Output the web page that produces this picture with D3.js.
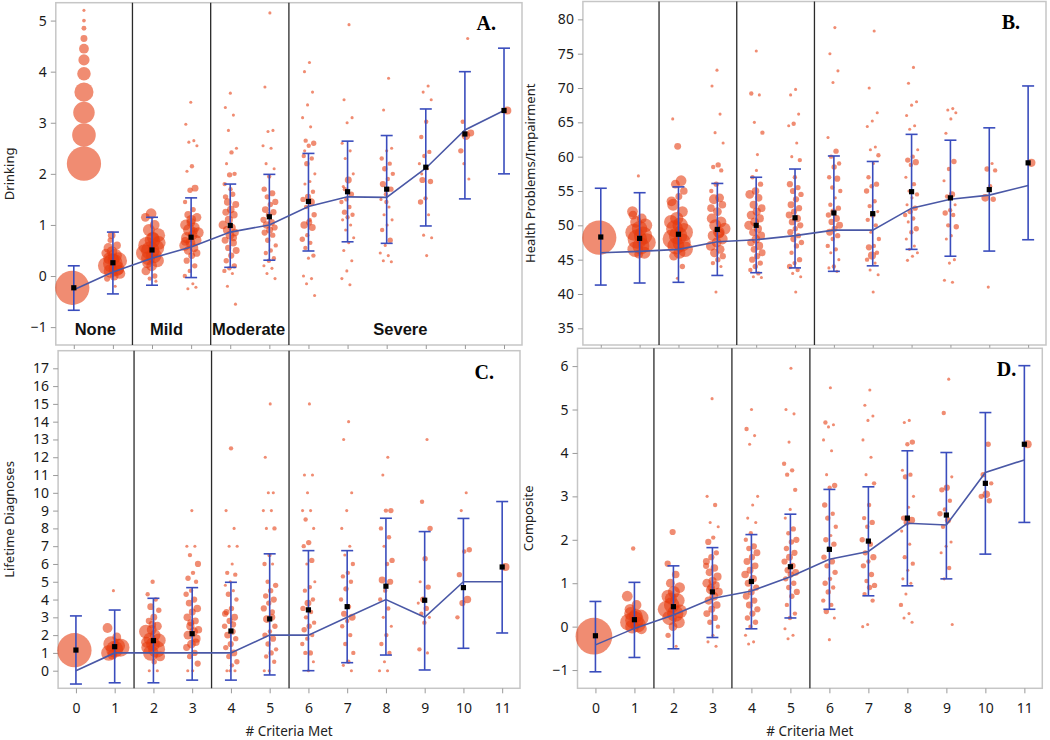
<!DOCTYPE html>
<html><head><meta charset="utf-8">
<script src="https://cdn.jsdelivr.net/npm/d3@7"></script>
<style>body{margin:0;background:#fff}svg{display:block}</style>
</head><body><svg id="c" width="1050" height="740"></svg>
<script>
// ---------------- DATA ----------------
const categories = [0,1,2,3,4,5,6,7,8,9,10,11];
const severityLabels = ["None","Mild","Moderate","Severe"];
const severityAnchors = [0.55,2.37,4.47,8.35];   // category units
const severityBreaks = [1.5,3.5,5.5];

// A. Drinking
const drinkingMean = [-0.23,0.26,0.51,0.76,0.99,1.16,1.46,1.65,1.70,2.13,2.78,3.24];
const drinkingHi   = [0.2,0.86,1.15,1.53,1.8,1.99,2.4,2.64,2.75,3.27,4.0,4.46];
const drinkingLo   = [-0.67,-0.35,-0.18,-0.03,0.17,0.31,0.49,0.67,0.64,0.98,1.51,2.0];
const drinkingMedian = [-0.27,0.08,0.35,0.57,0.86,1.0,1.36,1.55,1.54,2.11,2.86,3.24];
const drinkingTicks = [-1,0,1,2,3,4,5];
const drinkingPoints = [
 [[-0.23,122]],
 [[0.8,6],[0.45,8],[0.4,20],[0.35,15],[0.3,30],[0.25,40],[0.2,35],[0.15,25],[0.1,20],[0.05,12],[0.0,8],[0.55,10],[0.6,6],[0.48,12],[-0.05,4],[-0.2,1],[0.7,3],[0.12,10],[0.32,14]],
 [[1.22,12],[1.15,8],[1.0,10],[0.9,15],[0.8,20],[0.7,25],[0.6,30],[0.55,28],[0.5,35],[0.45,30],[0.4,25],[0.35,20],[0.3,18],[0.2,12],[0.1,8],[0.0,3],[-0.05,2],[0.65,20],[0.75,15],[0.25,10],[-0.1,1]],
 [[3.4,1],[2.97,1],[2.65,1],[2.62,1],[2.55,1],[2.15,2],[2.05,1],[1.72,5],[1.68,3],[1.45,2],[1.3,3],[1.2,6],[1.15,8],[1.1,10],[1.0,12],[0.95,10],[0.9,15],[0.85,12],[0.8,10],[0.75,14],[0.7,12],[0.65,10],[0.6,12],[0.55,8],[0.5,8],[0.45,6],[0.4,5],[0.3,4],[0.2,3],[0.1,2],[0.0,2],[-0.15,1],[-0.25,1],[-0.22,1],[1.05,8],[0.68,8],[0.88,6]],
 [[3.58,1],[3.3,1],[3.15,1],[2.85,1],[2.5,1],[2.42,2],[2.2,1],[2.0,2],[1.98,3],[1.8,2],[1.6,3],[1.45,6],[1.4,5],[1.3,6],[1.25,5],[1.2,6],[1.1,7],[1.0,8],[0.95,6],[0.9,7],[0.85,6],[0.8,8],[0.7,5],[0.65,6],[0.55,4],[0.5,5],[0.4,4],[0.3,3],[0.2,3],[0.15,2],[0.1,2],[0.05,1],[-0.2,1],[-0.55,1],[1.7,2],[1.55,3],[0.75,5]],
 [[5.15,1],[3.7,1],[2.85,1],[2.83,1],[2.55,1],[2.5,1],[2.2,1],[2.1,1],[1.95,2],[1.7,3],[1.62,4],[1.55,3],[1.45,4],[1.4,3],[1.3,5],[1.25,4],[1.2,3],[1.1,4],[1.05,5],[1.0,6],[0.95,4],[0.9,5],[0.85,4],[0.8,3],[0.7,3],[0.6,2],[0.5,2],[0.45,2],[0.35,2],[0.3,2],[0.2,1],[0.15,1],[0.05,1],[-0.05,1]],
 [[4.18,1],[4.0,1],[3.6,1],[3.35,1],[3.1,1],[2.92,1],[2.65,2],[2.6,3],[2.55,2],[2.35,2],[2.3,2],[2.2,3],[2.0,1],[1.85,1],[1.8,1],[1.65,2],[1.55,4],[1.5,3],[1.45,6],[1.35,2],[1.2,3],[1.05,4],[1.0,6],[0.95,5],[0.8,2],[0.72,3],[0.65,2],[0.55,2],[0.4,2],[0.35,1],[0.0,1],[-0.05,1],[-0.15,1],[-0.38,1],[1.1,2],[2.45,1]],
 [[4.92,1],[3.45,1],[3.1,1],[3.0,1],[2.6,1],[2.45,1],[2.3,1],[2.0,1],[1.88,5],[1.75,1],[1.6,3],[1.5,2],[1.45,2],[1.35,2],[1.25,3],[1.2,2],[1.15,2],[1.1,1],[1.0,1],[0.9,1],[0.75,1],[0.65,1],[0.5,1],[0.3,1],[0.1,1],[-0.05,1],[-0.17,1],[1.7,2]],
 [[3.87,1],[3.25,1],[2.5,1],[2.45,1],[2.3,2],[2.2,2],[2.1,3],[2.0,2],[1.9,2],[1.8,4],[1.7,3],[1.6,2],[1.5,1],[1.35,1],[1.2,1],[1.1,1],[1.0,1],[0.9,2],[0.7,3],[0.6,1],[0.45,1],[0.4,1],[0.3,1],[0.28,1],[1.45,2]],
 [[3.72,1],[3.6,1],[3.45,1],[3.02,2],[2.72,2],[2.43,2],[2.35,2],[2.2,1],[2.1,1],[1.88,4],[1.85,3],[1.52,2],[1.45,3],[1.2,1],[0.8,1],[0.75,1],[0.4,1],[2.0,1]],
 [[4.65,1],[3.02,2],[2.8,5],[2.75,8],[2.45,3],[1.9,1],[2.2,1]],
 [[3.24,7]]
];
// size key drawn inside panel A
const sizeKeyValues = [5.2,5.0,4.85,4.65,4.45,4.23,3.96,3.6,3.2,2.76,2.2];
const sizeKeyCounts = [1,1.4,2.5,5,10,13,19,38,48,58,122];
const sizeKeyCategory = 0.26;

// B. Health Problems/Impairment
const healthMean = [48.3,48.1,48.7,49.4,50.0,51.1,51.8,51.7,54.9,54.0,55.2,59.1];
const healthHi   = [55.4,54.75,55.6,56.1,57.0,58.2,60.1,59.3,63.25,62.4,64.2,70.3];
const healthLo   = [41.3,41.6,41.7,42.7,43.1,43.8,43.3,44.1,46.5,45.5,46.25,47.9];
const healthMedian = [46.0,46.2,46.5,47.6,47.9,48.5,49.3,49.3,52.5,53.8,54.4,55.8];
const healthTicks = [35,40,45,50,55,60,65,70,75,80];
const healthPoints = [
 [[48.2,122]],
 [[57.2,1],[52,12],[51,10],[50.5,14],[50,20],[49.5,25],[49,30],[48.5,35],[48,40],[47.5,35],[47,30],[46.5,25],[46,15],[45.8,8],[51.5,8]],
 [[61.5,5],[65.5,1],[56.5,12],[56,8],[55,6],[54.2,5],[53,15],[52,12],[51,18],[50.5,20],[50,25],[49.5,30],[49,35],[48.5,35],[48,40],[47.5,35],[47,30],[46.5,25],[46,15],[45.5,8],[44,3],[42.3,1],[53.5,10]],
 [[72.6,1],[70.3,1],[66.2,1],[63.5,1],[62,1],[58.8,3],[58.5,2],[58,2],[56,3],[55,2],[54,8],[53.8,10],[53,6],[52,8],[51,10],[50.5,12],[50,15],[49.5,15],[49,14],[48.5,12],[48,12],[47.5,10],[47,10],[46.5,8],[46,8],[45.5,4],[45,3],[44.5,2],[44,1],[40.3,1],[52.5,6],[48.8,10]],
 [[75.4,1],[69.2,2],[69,1],[65,1],[63.5,2],[60.3,1],[57,2],[56,3],[55,6],[54.5,8],[54,6],[53,7],[52.5,6],[52,7],[51.5,8],[51,7],[50.5,8],[50,9],[49.5,7],[49,6],[48.5,7],[48,8],[47.5,6],[47,7],[46.5,5],[46,5],[45.5,4],[45,4],[44.5,3],[44,3],[43.5,2],[43,2],[42.5,1],[42.4,1],[58,1]],
 [[69.8,1],[69,1],[66.2,1],[64.8,2],[64.5,1],[62,1],[60,1],[59.5,2],[57,2],[56,4],[55.5,3],[55,4],[54.5,3],[53.8,4],[53,5],[52.5,4],[52,4],[51.5,5],[51,6],[50.5,5],[50,4],[49.5,3],[49,4],[48.5,3],[48,4],[47.5,3],[47,3],[46,2],[45,3],[44.5,2],[44,3],[43.5,2],[43,1],[42.5,1],[40.3,1]],
 [[78.8,1],[75,1],[72.5,1],[70.8,1],[62.8,1],[60.8,3],[60,2],[59,2],[58.5,3],[57,2],[56.8,4],[55.5,2],[55,2],[54,1],[53,2],[52.5,3],[52,4],[51.5,3],[51,5],[50.5,4],[50,5],[49.5,4],[49,5],[48.5,3],[48,2],[47,2],[46.5,2],[46,1],[45,1],[44,2],[43.8,1],[43.3,1]],
 [[78.3,1],[70,1],[66.4,1],[65.2,1],[64.4,1],[61.4,1],[61,1],[60.2,2],[59,1],[57,2],[56,3],[55.7,2],[55,3],[53.5,2],[52.8,2],[52,1],[51.5,3],[50.8,2],[50,2],[49,1],[48,2],[47,2],[46.8,4],[46,2],[45.6,7],[45,2],[44.5,1],[43.5,1],[42.8,1],[40.3,1]],
 [[73,1],[70.7,1],[68,1],[67.5,1],[66,1],[64.5,1],[64,1],[61,1],[60,2],[59.5,3],[59.2,4],[58.8,2],[57,1],[56,2],[55,1],[54.5,2],[54,1],[53,1],[52.5,3],[52,3],[51.5,2],[51,2],[50.5,1],[49.5,3],[49,2],[48,1],[47,1],[46.5,1],[46,1],[45.5,1],[44.9,1]],
 [[67,1],[66.8,1],[66.4,1],[65.5,1],[63.4,1],[59.3,3],[58.2,2],[56.5,1],[54.5,4],[54.2,2],[53,1],[52.2,2],[51.8,3],[51.5,2],[50,2],[49.8,3],[48.5,1],[48,1],[45,1],[44.5,1],[42,1],[41.7,1]],
 [[59,1],[58.2,3],[58,2],[55.7,2],[54,6],[53.8,3],[41,1]],
 [[59.1,7]]
];

// C. Lifetime Diagnoses
const diagMean = [1.16,1.35,1.69,2.08,2.23,2.91,3.42,3.6,4.75,3.96,4.67,5.83];
const diagHi   = [3.08,3.41,4.07,4.67,4.97,6.57,6.75,6.75,8.57,7.82,8.56,9.51];
const diagLo   = [-0.75,-0.68,-0.68,-0.53,-0.53,-0.24,0.0,0.45,0.88,0.04,1.26,2.12];
const diagMedian = [0,1,1,1,1,2,2,3,4,3,5,5];
const diagTicks = [0,1,2,3,4,5,6,7,8,9,10,11,12,13,14,15,16,17];
const diagPoints = [
 [[1.15,122]],
 [[4.5,1],[2.4,10],[1.9,8],[1.5,25],[1.3,35],[1.2,30],[1.0,25],[1.4,20],[0.9,10]],
 [[5,2],[4.3,2],[4,2],[3.6,5],[3.4,3],[3,5],[2.8,4],[2.5,8],[2.3,10],[2.2,20],[2,12],[1.8,15],[1.7,20],[1.5,20],[1.3,15],[1.2,30],[1,25],[0.8,10],[0.5,3],[0,1],[0,1],[2.6,6],[1.6,12]],
 [[9,1],[7,1],[7,1],[6.5,2],[6,4],[5.5,2],[5.2,3],[5,2],[4.5,2],[4.3,3],[4,4],[3.8,5],[3.5,6],[3.3,5],[3,6],[2.8,5],[2.5,7],[2.3,6],[2.2,8],[2,8],[1.8,7],[1.5,8],[1.3,5],[1,4],[0.8,3],[0.4,4],[0,1],[0,1],[1.6,6],[2.7,5]],
 [[12.5,2],[9,1],[8,1],[7,1],[7,1],[6,1],[5.5,2],[5.4,2],[5,1],[4.8,1],[4.5,1],[4.3,3],[4,2],[3.5,3],[3.3,4],[3,5],[2.8,4],[2.5,3],[2.2,4],[2,5],[1.8,3],[1.5,4],[1.3,3],[1,5],[0.8,3],[0.5,3],[0.3,2],[0,1],[0,1],[0,1],[3.2,4],[2.6,4]],
 [[15,1],[12,1],[10,1],[10,1],[9,1],[9,1],[8,1],[8,2],[6.5,2],[6,2],[6,1],[5,2],[4.8,3],[4.5,3],[4.2,3],[4,4],[3.8,3],[3.5,4],[3,5],[2.9,6],[2.5,3],[2.2,2],[2,3],[1.8,4],[1.5,3],[1.2,2],[1,3],[0.8,2],[0.5,2],[0,1],[0,1],[3.3,3]],
 [[15,1],[11,1],[11,1],[10,1],[9,1],[9,1],[8.5,2],[8,1],[7.2,3],[7,2],[6.2,3],[6,1],[5,1],[4.7,2],[4.5,2],[4,2],[3.8,5],[3.5,3],[3.3,2],[3,2],[2.7,2],[2.5,3],[2.3,3],[2,2],[1.8,2],[1.5,2],[1,3],[1,2],[0.5,1],[0,1]],
 [[14,1],[13,1],[10,1],[9,1],[8,1],[7,1],[6.5,1],[6,2],[5.5,2],[5.3,2],[5,2],[4.6,3],[4,2],[3.6,2],[3.2,4],[3,5],[2.8,2],[2.5,2],[2,2],[1.5,2],[1,2],[0.5,2],[0.3,1],[0,1]],
 [[12,1],[11,1],[9,3],[9,2],[8,2],[7.5,2],[7,1],[6.2,3],[6,2],[5.1,5],[5,4],[4.5,2],[4,2],[3.5,2],[3,1],[2.5,1],[2,2],[1.5,2],[1,2],[0.5,1],[0,1],[0,1]],
 [[13,1],[9.5,2],[8,3],[6.3,3],[5,1],[4.7,3],[4,4],[3.8,1],[3.5,3],[3.2,2],[3,1],[2.7,2],[1.2,2],[1,1]],
 [[10,1],[9,1],[6.8,3],[6.7,2],[5.4,3],[4,6],[3.8,4],[3,2]],
 [[5.83,7]]
];

// D. Composite
const compMean = [-0.21,0.16,0.46,0.8,1.04,1.38,1.78,1.97,2.5,2.57,3.3,4.2];
const compHi   = [0.58,1.02,1.4,1.82,2.12,2.59,3.16,3.22,4.05,4.01,4.93,6.01];
const compLo   = [-1.04,-0.71,-0.51,-0.25,-0.05,0.2,0.4,0.71,0.94,1.1,1.67,2.4];
const compMedian = [-0.42,-0.04,0.27,0.65,0.82,1.15,1.55,1.73,2.38,2.34,3.55,3.84];
const compTicks = [-1,0,1,2,3,4,5,6];
const compPoints = [
 [[-0.22,140]],
 [[1.8,2],[0.7,12],[0.5,10],[0.3,18],[0.2,30],[0.15,35],[0.1,30],[0.05,25],[0.0,20],[-0.05,12],[0.25,20],[0.4,12]],
 [[2.18,4],[1.45,4],[1.2,6],[1.0,8],[0.9,12],[0.8,15],[0.7,18],[0.6,22],[0.5,25],[0.4,28],[0.3,28],[0.2,22],[0.1,15],[0.0,8],[-0.2,3],[-0.45,1],[0.65,15],[0.35,20]],
 [[5.25,1],[3.0,1],[2.8,2],[2.4,1],[2.3,1],[2.05,2],[1.95,4],[1.7,3],[1.6,4],[1.5,5],[1.35,6],[1.25,6],[1.15,7],[1.05,7],[1.0,8],[0.95,7],[0.85,8],[0.8,7],[0.7,8],[0.6,7],[0.5,6],[0.4,5],[0.3,5],[0.2,4],[0.1,3],[0.0,2],[-0.2,1],[-0.35,1],[-0.45,1],[0.9,6],[1.4,4]],
 [[5.0,1],[4.55,2],[4.4,1],[4.2,1],[3.0,1],[2.8,1],[2.5,1],[2.4,1],[2.15,2],[2.0,2],[1.85,4],[1.8,3],[1.7,5],[1.6,4],[1.5,5],[1.4,5],[1.3,5],[1.2,6],[1.1,6],[1.0,5],[0.9,4],[0.8,5],[0.7,5],[0.6,4],[0.5,5],[0.4,4],[0.3,4],[0.2,3],[0.1,3],[0.0,2],[-0.2,1],[-0.35,1],[-0.4,1]],
 [[5.95,1],[5.0,1],[4.9,1],[4.25,1],[3.75,2],[3.6,2],[3.5,2],[3.15,2],[2.7,1],[2.5,1],[2.25,3],[2.15,2],[2.0,4],[1.95,3],[1.8,3],[1.7,4],[1.6,5],[1.5,4],[1.4,4],[1.3,4],[1.25,5],[1.2,4],[1.1,3],[1.0,3],[0.9,3],[0.8,4],[0.7,3],[0.5,2],[0.3,2],[0.2,2],[-0.05,1],[-0.2,1],[-0.28,1]],
 [[5.5,1],[4.7,2],[4.65,1],[4.6,1],[4.3,1],[4.05,1],[3.5,1],[3.25,3],[3.2,2],[2.8,3],[2.6,2],[2.5,3],[2.3,2],[2.1,1],[2.0,3],[1.9,3],[1.8,2],[1.6,3],[1.5,4],[1.4,3],[1.25,3],[1.1,2],[1.0,3],[0.9,2],[0.8,3],[0.6,2],[0.5,2],[0.35,3],[0.2,1],[-0.3,1]],
 [[5.45,1],[5.1,1],[4.85,1],[4.75,1],[4.3,1],[3.9,1],[3.5,1],[3.3,2],[2.8,2],[2.5,2],[2.4,3],[2.3,2],[2.0,3],[1.9,3],[1.7,3],[1.6,4],[1.5,2],[1.4,3],[1.2,3],[1.05,2],[0.95,3],[0.9,3],[0.75,2],[0.6,2],[0.05,1],[0.0,1]],
 [[4.75,1],[4.7,1],[4.25,3],[4.2,2],[3.6,1],[3.5,2],[3.45,3],[3.0,1],[2.75,1],[2.5,3],[2.45,5],[2.4,4],[2.2,1],[1.9,1],[1.6,2],[1.45,2],[1.3,1],[1.1,1],[1.0,1],[0.75,1],[0.5,2],[0.3,1],[0.2,1],[0.1,1]],
 [[5.7,1],[4.92,2],[3.45,1],[3.2,4],[3.15,3],[2.9,2],[2.7,2],[2.6,3],[2.45,4],[2.3,2],[1.95,1],[1.85,1],[1.7,1],[1.35,2],[1.1,1],[0.05,1]],
 [[4.2,3],[3.5,3],[3.3,2],[3.05,6],[3.0,3],[2.9,3]],
 [[4.2,7]]
];

// ---------------- LAYOUT ----------------
const panels = [
 {letter:"A.", title:"Drinking", mean:drinkingMean, hi:drinkingHi, lo:drinkingLo, median:drinkingMedian, pts:drinkingPoints, ticks:drinkingTicks,
  yDom:[-1.35,5.35], box:{x0:55.8,x1:522,y0:2.7,y1:345}, titleX:14, xLabels:false, severity:true, sizeKey:true},
 {letter:"B.", title:"Health Problems/Impairment", mean:healthMean, hi:healthHi, lo:healthLo, median:healthMedian, pts:healthPoints, ticks:healthTicks,
  yDom:[32.57,82.6], box:{x0:582.9,x1:1046,y0:1.5,y1:345}, titleX:535, xLabels:false},
 {letter:"C.", title:"Lifetime Diagnoses", mean:diagMean, hi:diagHi, lo:diagLo, median:diagMedian, pts:diagPoints, ticks:diagTicks,
  yDom:[-0.99,17.99], box:{x0:58.1,x1:520,y0:350.7,y1:688.3}, titleX:14, xLabels:true},
 {letter:"D.", title:"Composite", mean:compMean, hi:compHi, lo:compLo, median:compMedian, pts:compPoints, ticks:compTicks,
  yDom:[-1.42,6.41], box:{x0:577.5,x1:1042.3,y0:348.3,y1:688.3}, titleX:533, xLabels:true}
];

const svg = d3.select("#c");
const FONT = "'Noto Sans', 'Open Sans', sans-serif";
const rScale = d3.scaleSqrt().domain([0,1]).range([0,1.55]);
const ptFill = "#e6380c", ptOpacity = 0.58;
const barColor = "#3a4dbd", lineColor = "#4a58a6";
function jit(i,j){ const f = ((i*13 + j) * 0.6180339887 + 0.37) % 1; return (f - 0.5) * 2; }

panels.forEach(p => {
  const b = p.box;
  const x = d3.scaleLinear().domain([-0.46, 11.46]).range([b.x0, b.x1]);
  const y = d3.scaleLinear().domain(p.yDom).range([b.y1, b.y0]);
  const g = svg.append("g");

  // frame
  g.append("rect").attr("x", b.x0).attr("y", b.y0).attr("width", b.x1-b.x0).attr("height", b.y1-b.y0)
    .attr("fill","#fff").attr("stroke","#c6c6c6").attr("stroke-width",1.5);

  // y axis
  const ya = g.append("g").attr("transform",`translate(${b.x0},0)`)
    .call(d3.axisLeft(y).tickValues(p.ticks).tickSize(5).tickPadding(4).tickFormat(d3.format("d")));
  ya.select(".domain").remove();
  ya.selectAll("line").attr("stroke","#9a9a9a");
  ya.selectAll("text").attr("font-family",FONT).attr("font-size",14).attr("fill","#1a1a1a");

  // x axis
  const xa = g.append("g").attr("transform",`translate(0,${b.y1})`)
    .call(d3.axisBottom(x).tickValues(categories).tickSize(p.xLabels?5:4).tickPadding(10)
      .tickFormat(p.xLabels ? d3.format("d") : () => ""));
  xa.select(".domain").remove();
  xa.selectAll("line").attr("stroke","#9a9a9a");
  xa.selectAll("text").attr("font-family",FONT).attr("font-size",14).attr("fill","#1a1a1a");
  if (p.xLabels) {
    g.append("text").attr("x",(b.x0+b.x1)/2).attr("y",735.5).attr("text-anchor","middle")
      .attr("font-family",FONT).attr("font-size",13.5).attr("fill","#222").text("# Criteria Met");
  }

  // y title
  g.append("text").attr("transform",`translate(${p.titleX},${(b.y0+b.y1)/2}) rotate(-90)`)
    .attr("text-anchor","middle").attr("font-family",FONT).attr("font-size",13).attr("fill","#222").text(p.title);

  // severity dividers
  g.selectAll("line.div").data(severityBreaks).join("line").attr("class","div")
    .attr("x1",d=>x(d)).attr("x2",d=>x(d)).attr("y1",b.y0).attr("y2",b.y1)
    .attr("stroke","#2a2a2a").attr("stroke-width",1.3);

  if (p.severity) {
    g.selectAll("text.sev").data(severityLabels).join("text").attr("class","sev")
      .attr("x",(d,i)=>x(severityAnchors[i])).attr("y",b.y1-10).attr("text-anchor","middle")
      .attr("font-family","'Liberation Sans', Arial, sans-serif").attr("font-weight","bold").attr("font-size",16.5)
      .attr("fill","#111").text(d=>d);
  }

  // points
  const flat = [];
  p.pts.forEach((arr,i) => arr.forEach((d,j) => flat.push({c:i, v:d[0], n:d[1], j})));
  const cg = g.append("g");
  cg.selectAll("circle").data(flat).join("circle")
    .attr("cx", d => x(d.c) + (d.n >= 100 ? -1.5 : jit(d.c,d.j)*(d.n >= 8 ? 7.5 : 6.5)))
    .attr("cy", d => y(d.v)).attr("r", d => rScale(d.n))
    .attr("fill", ptFill).attr("fill-opacity", ptOpacity);

  if (p.sizeKey) {
    cg.selectAll("circle.key").data(sizeKeyValues).join("circle").attr("class","key")
      .attr("cx", x(sizeKeyCategory)).attr("cy", d => y(d)).attr("r", (d,i) => rScale(sizeKeyCounts[i]))
      .attr("fill", ptFill).attr("fill-opacity", ptOpacity);
  }

  // error bars
  const eb = g.append("g").attr("stroke",barColor).attr("stroke-width",1.6).attr("fill","none");
  categories.forEach((c,i) => {
    eb.append("line").attr("x1",x(c)).attr("x2",x(c)).attr("y1",y(p.hi[i])).attr("y2",y(p.lo[i]));
    eb.append("line").attr("x1",x(c)-6).attr("x2",x(c)+6).attr("y1",y(p.hi[i])).attr("y2",y(p.hi[i]));
    eb.append("line").attr("x1",x(c)-6).attr("x2",x(c)+6).attr("y1",y(p.lo[i])).attr("y2",y(p.lo[i]));
  });

  // median line
  g.append("path").datum(categories)
    .attr("d", d3.line().x(c => x(c)).y((c,i) => y(p.median[i])))
    .attr("fill","none").attr("stroke",lineColor).attr("stroke-width",1.6);

  // means
  g.selectAll("rect.mean").data(categories).join("rect").attr("class","mean")
    .attr("x", c => x(c)-2.6).attr("y", (c,i) => y(p.mean[i])-2.6).attr("width",5.2).attr("height",5.2)
    .attr("fill","#000");

  // panel letter
  g.append("text").attr("x", b.x1-26).attr("y", b.y0 + (p.letter==="A."||p.letter==="B." ? 27.5 : 28))
    .attr("text-anchor","end").attr("font-family","'Liberation Serif','Times New Roman',serif")
    .attr("font-weight","bold").attr("font-size",20).attr("fill","#000").text(p.letter);
});
</script></body></html>
